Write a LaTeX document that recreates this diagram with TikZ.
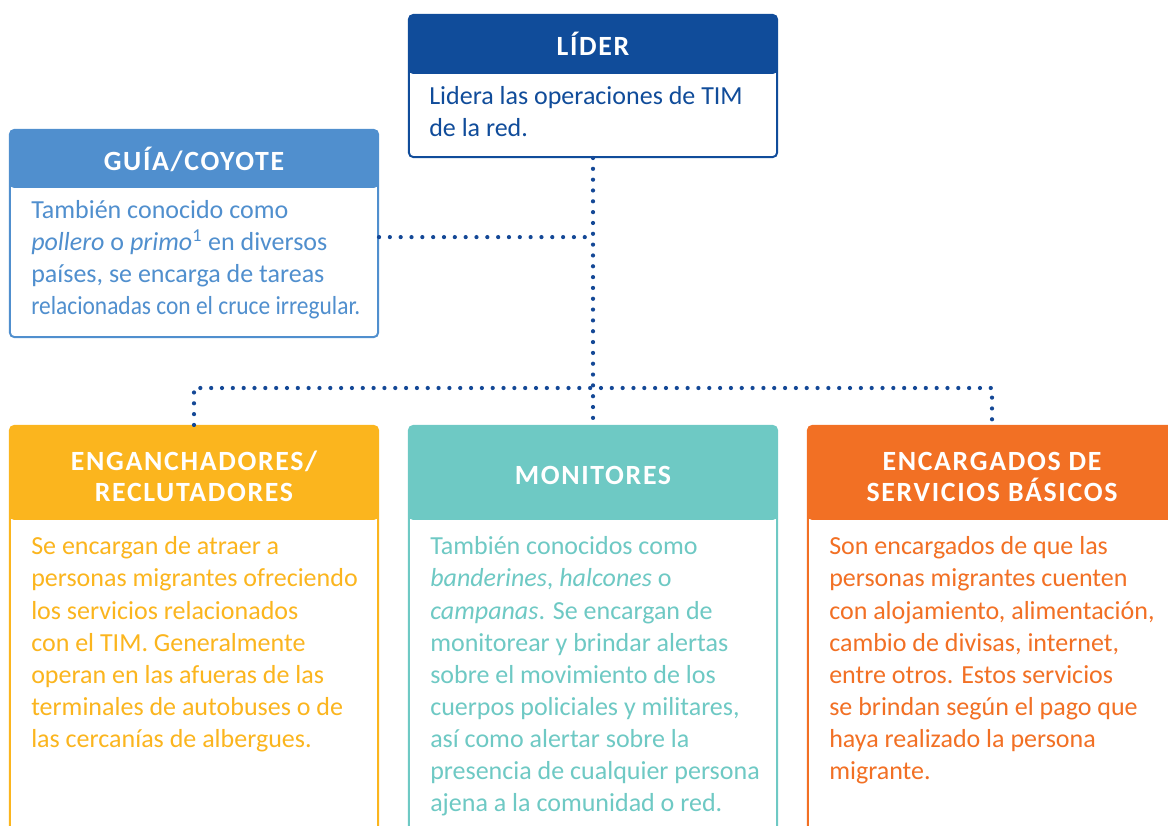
\documentclass[tikz,border=0pt]{standalone}
\usepackage{fontspec}
\usepackage{graphicx}
\setsansfont{Carlito}
\newfontfamily\headfont[LetterSpace=6]{Carlito}
\usetikzlibrary{positioning}
\definecolor{liderblue}{RGB}{16,76,154}
\definecolor{guiablue}{RGB}{80,143,206}
\definecolor{recyellow}{RGB}{251,181,30}
\definecolor{monteal}{RGB}{110,201,196}
\definecolor{servorange}{RGB}{242,112,36}
\definecolor{dotblue}{RGB}{20,72,150}
\tikzset{%
  % Specifications for style of nodes:
        card/.style 2 args = {rectangle, rounded corners=3pt, draw=#1, line width=1.4pt,
                              fill=white, minimum width=9.2cm,
                              path picture={\fill[#1] (path picture bounding box.north west)
                                rectangle ([yshift=-#2]path picture bounding box.north east);}},
        head/.style = {text=white, align=center, inner sep=0pt,
                       font=\headfont\bfseries\fontsize{19.8}{22}\selectfont},
        body/.style = {text=#1, anchor=north west, align=left, inner sep=0pt,
                       font=\sffamily\fontsize{18.5}{22.8}\selectfont},
        dots/.style = {draw=dotblue, line width=3pt, line cap=round,
                       dash pattern=on 0pt off 7.7pt},
}

\begin{document}
\begin{tikzpicture}[x=0.025cm, y=0.025cm]
  \useasboundingbox (0,0) rectangle (1168,825);
  \clip (0,0) rectangle (1168,825);
  % Cards (position, colour, header band)
  \node (lider)          [card={liderblue}{1.475cm}, minimum height=3.55cm] at (593,739) {};
  \node (guia)           [card={guiablue}{1.45cm}, minimum height=5.175cm] at (194,591.5) {};
  \node (enganchadores)  [card={recyellow}{2.35cm}, minimum height=11.5cm] at (194,169) {};
  \node (monitores)      [card={monteal}{2.35cm}, minimum height=11.5cm] at (593,169) {};
  \node (encargados)     [card={servorange}{2.35cm}, minimum height=11.5cm] at (992,169) {};

  % Titles
  \node (lider-title)    [head, anchor=base] at ([yshift=-1.03cm]lider.north) {LÍDER};
  \node (guia-title)     [head, anchor=base] at ([yshift=-1.03cm]guia.north) {GUÍA/COYOTE};
  \node (engan-title)    [head] at ([yshift=-1.29cm]enganchadores.north) {ENGANCHADORES/\\RECLUTADORES};
  \node (monit-title)    [head, anchor=base] at ([yshift=-1.5cm]monitores.north) {MONITORES};
  \node (encarg-title)   [head] at ([yshift=-1.29cm]encargados.north) {ENCARGADOS DE\\SERVICIOS BÁSICOS};

  % Texts
  \node (lider-text)  [body=liderblue, below right=1.69cm and 0.525cm of lider.north west]
    {\strut Lidera las operaciones de TIM\\de la red.};
  \node (guia-text)   [body=guiablue, below right=1.67cm and 0.55cm of guia.north west]
    {\strut También conocido como\\\textit{pollero} o \textit{primo}\textsuperscript{1} en diversos\\
     países, se encarga de tareas\\\scalebox{0.9}[1]{relacionadas con el cruce irregular.}};
  \node (engan-text)  [body=recyellow, below right=2.68cm and 0.55cm of enganchadores.north west]
    {\strut Se encargan de atraer a\\personas migrantes ofreciendo\\los servicios relacionados\\
     con el TIM. Generalmente\\operan en las afueras de las\\terminales de autobuses o de\\
     las cercanías de albergues.};
  \node (monit-text)  [body=monteal, below right=2.68cm and 0.55cm of monitores.north west]
    {\strut También conocidos como\\\textit{banderines}, \textit{halcones} o\\
     \textit{campanas}. Se encargan de\\monitorear y brindar alertas\\sobre el movimiento de los\\
     cuerpos policiales y militares,\\así como alertar sobre la\\presencia de cualquier persona\\
     ajena a la comunidad o red.};
  \node (encarg-text) [body=servorange, below right=2.68cm and 0.55cm of encargados.north west]
    {\strut Son encargados de que las\\personas migrantes cuenten\\con alojamiento, alimentación,\\
     cambio de divisas, internet,\\entre otros. Estos servicios\\se brindan según el pago que\\
     haya realizado la persona\\migrante.};

  % Dotted links
  \coordinate (bus) at (593,437);
  \draw[dots] (lider) -- (monitores);
  \draw[dots] (enganchadores) |- (bus) -| (encargados);
  \draw[dots] ([yshift=-0.09cm]guia.east) -- ([yshift=-0.09cm]guia.east -| bus);
\end{tikzpicture}
\end{document}
